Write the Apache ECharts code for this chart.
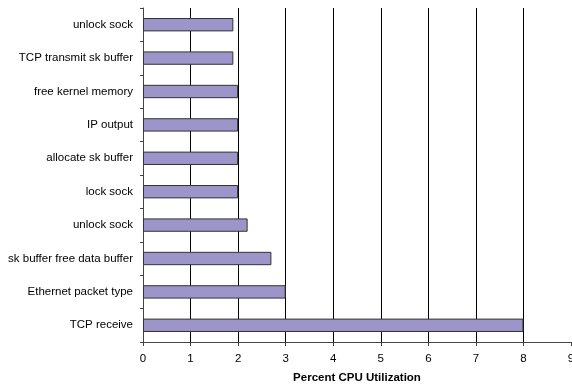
<!DOCTYPE html>
<html><head><meta charset="utf-8">
<script src="https://cdn.jsdelivr.net/npm/echarts@6/dist/echarts.min.js"></script>
<style>html,body{margin:0;padding:0;background:#fff}#c{width:572px;height:386px}</style>
</head><body><div id="c"></div>
<script>
const categories = ['TCP receive', 'Ethernet packet type', 'sk buffer free data buffer', 'unlock sock', 'lock sock', 'allocate sk buffer', 'IP output', 'free kernel memory', 'TCP transmit sk buffer', 'unlock sock'];
const values = [8, 3, 2.7, 2.2, 2, 2, 2, 2, 1.9, 1.9];
const xTicks = [0, 1, 2, 3, 4, 5, 6, 7, 8, 9];
const axisTitle = 'Percent CPU Utilization';

const chart = echarts.init(document.getElementById('c'), null, {renderer: 'canvas'});
chart.setOption({
  animation: false,
  grid: {left: 143, right: 1, top: 8, bottom: 44, containLabel: false, outerBoundsMode: 'none'},
  xAxis: {
    type: 'value', min: xTicks[0], max: xTicks[xTicks.length - 1], interval: 1,
    name: axisTitle, nameLocation: 'middle', nameGap: 30,
    nameTextStyle: {fontFamily: 'Liberation Sans, Arial', fontSize: 11.5, fontWeight: 'bold', color: '#000'},
    axisLine: {show: true, lineStyle: {color: '#444', width: 1}},
    axisTick: {show: true, length: 4, lineStyle: {color: '#444'}},
    axisLabel: {fontFamily: 'Liberation Sans, Arial', fontSize: 11.5, color: '#000', margin: 11},
    splitLine: {show: true, showMaxLine: false, lineStyle: {color: '#000', width: 1}}
  },
  yAxis: {
    type: 'category', data: categories,
    axisLine: {show: true, lineStyle: {color: '#444', width: 1}},
    axisTick: {show: true, length: 3, alignWithLabel: false, lineStyle: {color: '#444'}},
    axisLabel: {fontFamily: 'Liberation Sans, Arial', fontSize: 11.5, color: '#000', margin: 10},
    splitLine: {show: false}
  },
  series: [{
    type: 'bar', data: values, barCategoryGap: '60%',
    itemStyle: {color: '#9B95C9', borderColor: '#333', borderWidth: 1}
  }]
});
</script></body></html>
